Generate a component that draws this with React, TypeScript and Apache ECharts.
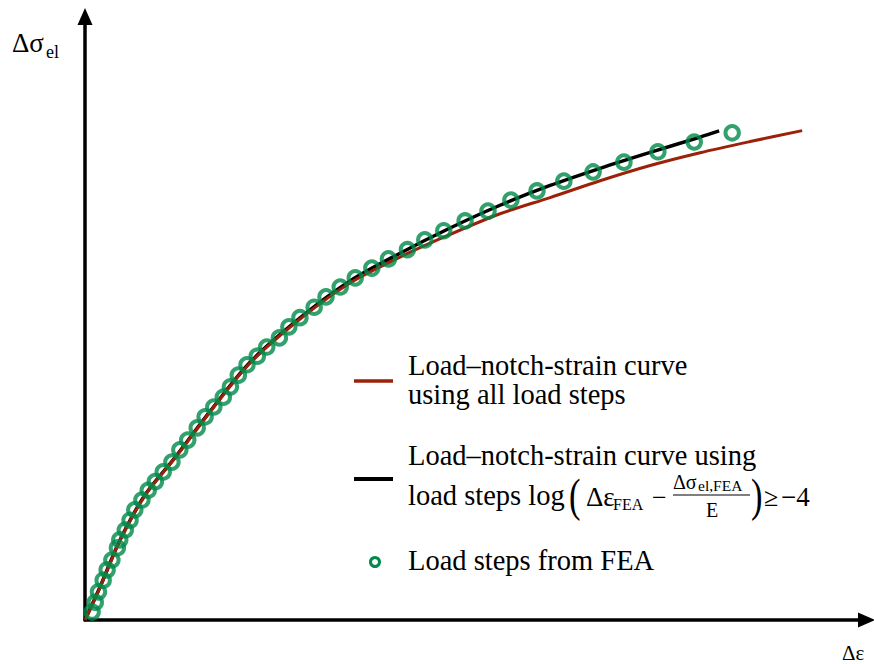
import React, { useEffect, useRef } from "react";
import * as echarts from "echarts";

// Load steps from FEA: notch strain range Δε and elastic stress range Δσ_el (relative units)
const feaStrain = [
  0.9, 1.3, 1.7, 2.3, 2.8, 3.4, 4.1, 4.4, 5.1, 5.7, 6.3, 7.2, 8.0, 8.9, 9.9, 11.0, 12.0,
  13.0, 14.2, 15.2, 16.3, 17.5, 18.4, 19.4, 20.5, 21.8, 23.0, 24.6, 25.8, 27.2, 29.0, 30.5,
  32.3, 34.2, 36.3, 38.4, 40.8, 43.0, 45.4, 48.1, 51.0, 53.9, 57.2, 60.6, 64.3, 68.2, 72.5,
  77.1, 81.9,
];
const feaStress = [
  1.3, 2.9, 4.6, 6.5, 8.2, 9.8, 11.8, 13.1, 14.7, 16.3, 18.0, 19.6, 21.2, 22.6, 24.2, 25.8,
  27.8, 29.4, 31.4, 33.2, 34.8, 36.4, 38.1, 40.0, 41.7, 43.1, 44.6, 46.1, 47.9, 49.4, 51.1,
  52.8, 54.4, 55.9, 57.5, 59.0, 60.5, 62.1, 63.6, 65.2, 66.8, 68.6, 70.1, 71.7, 73.2, 74.8,
  76.5, 78.1, 79.6,
];

// Load–notch-strain curve fitted to all load steps
const allStepsStrain = [
  0, 1.9, 4.43, 7.59, 11.39, 15.82, 20.89, 27.22, 33.54, 39.87, 46.2, 52.53, 58.86, 65.19,
  71.52, 77.85, 84.18, 90.76,
];
const allStepsStress = [
  0, 5.31, 12.99, 20.34, 26.47, 33.99, 41.99, 49.18, 55.07, 59.3, 62.99, 66.37, 69.02, 71.77,
  74.26, 76.35, 78.17, 79.95,
];

// Load–notch-strain curve fitted to the load steps with log(Δε_FEA − Δσ_el,FEA / E) ≥ −4
const filteredStrain = [
  0, 1.9, 4.43, 7.59, 11.39, 15.82, 20.89, 27.22, 33.54, 39.87, 46.2, 52.53, 58.86, 65.19,
  71.52, 77.85, 80.25,
];
const filteredStress = [
  0, 5.39, 13.07, 20.42, 26.55, 34.08, 42.11, 49.35, 55.39, 59.92, 64.04, 67.76, 71.0, 73.8,
  76.4, 78.9, 79.9,
];

const AXIS_MAX_X = 98.9;
const AXIS_MAX_Y = 98.6;

const RED = "#9b2209";
const BLACK = "#000000";
const GREEN = "#008a4a";

const SERIF = "Liberation Serif";

// text element placed by its alphabetic baseline (top-aligned text box)
function label(text: string, x: number, baseline: number, size: number, scaleX = 1) {
  return {
    type: "text",
    x,
    y: baseline - 0.84 * size,
    scaleX,
    style: {
      text,
      fontSize: size,
      fontFamily: SERIF,
      fill: "#000",
    },
  };
}

export default function App() {
  const ref = useRef<HTMLDivElement>(null);

  useEffect(() => {
    if (!ref.current) return;
    const chart = echarts.init(ref.current, undefined, { renderer: "svg" });

    const zip = (xs: number[], ys: number[]) => xs.map((x, i) => [x, ys[i]]);

    const legendSize = 28.5;

    chart.setOption({
      animation: false,
      grid: { left: 85, right: 7.5, top: 16.5, bottom: 44, containLabel: false },
      xAxis: {
        type: "value",
        min: 0,
        max: AXIS_MAX_X,
        axisLine: {
          show: true,
          onZero: false,
          symbol: ["none", "triangle"],
          symbolSize: [15, 17],
          lineStyle: { color: BLACK, width: 3.5 },
        },
        axisTick: { show: false },
        axisLabel: { show: false },
        splitLine: { show: false },
      },
      yAxis: {
        type: "value",
        min: 0,
        max: AXIS_MAX_Y,
        axisLine: {
          show: true,
          onZero: false,
          symbol: ["none", "triangle"],
          symbolSize: [15, 17],
          lineStyle: { color: BLACK, width: 3.5 },
        },
        axisTick: { show: false },
        axisLabel: { show: false },
        splitLine: { show: false },
      },
      series: [
        {
          name: "filtered",
          type: "line",
          data: zip(filteredStrain, filteredStress),
          smooth: 0.3,
          showSymbol: false,
          lineStyle: { color: BLACK, width: 3.5 },
          z: 2,
        },
        {
          name: "all",
          type: "line",
          data: zip(allStepsStrain, allStepsStress),
          smooth: 0.3,
          showSymbol: false,
          lineStyle: { color: RED, width: 3 },
          z: 3,
        },
        {
          name: "fea",
          type: "scatter",
          data: zip(feaStrain, feaStress),
          symbol: "circle",
          symbolSize: 13.5,
          itemStyle: { color: "rgba(0,0,0,0)", borderColor: GREEN, borderWidth: 4 },
          z: 4,
        },
      ],
      graphic: {
        elements: [
          // axis titles
          label("Δσ", 12, 52, 27),
          label("el", 46, 58, 18),
          label("Δε", 842, 660, 21),

          // legend: all load steps
          {
            type: "line",
            shape: { x1: 354, y1: 381, x2: 393, y2: 381 },
            style: { stroke: RED, lineWidth: 3.5 },
          },
          label("Load–notch-strain curve", 408, 375, legendSize),
          label("using all load steps", 408, 404, legendSize),

          // legend: filtered load steps
          {
            type: "line",
            shape: { x1: 354, y1: 479, x2: 393, y2: 479 },
            style: { stroke: BLACK, lineWidth: 4 },
          },
          label("Load–notch-strain curve using", 408, 465, legendSize),
          label("load steps log", 408, 505, legendSize),
          label("(", 569, 511, 46, 0.75),
          label("Δε", 586, 506, 27),
          label("FEA", 613, 510, 16),
          label("−", 652, 506, 26),
          label("Δσ", 673, 489, 20),
          label("el,FEA", 698, 491, 15.5),
          {
            type: "line",
            shape: { x1: 673, y1: 495, x2: 750, y2: 495 },
            style: { stroke: "#000", lineWidth: 1.2 },
          },
          label("E", 706, 517, 20),
          label(")", 751, 511, 46, 0.75),
          label("≥", 764, 506, 26),
          label("−4", 781, 506, 27),

          // legend: FEA load steps
          {
            type: "circle",
            shape: { cx: 375, cy: 562, r: 4.5 },
            style: { fill: "none", stroke: GREEN, lineWidth: 3 },
          },
          label("Load steps from FEA", 408, 570, legendSize),
        ],
      },
    });

    return () => chart.dispose();
  }, []);

  return (
    <div
      ref={ref}
      style={{ position: "fixed", left: 0, top: 0, width: 874, height: 664, background: "#fff" }}
    />
  );
}
